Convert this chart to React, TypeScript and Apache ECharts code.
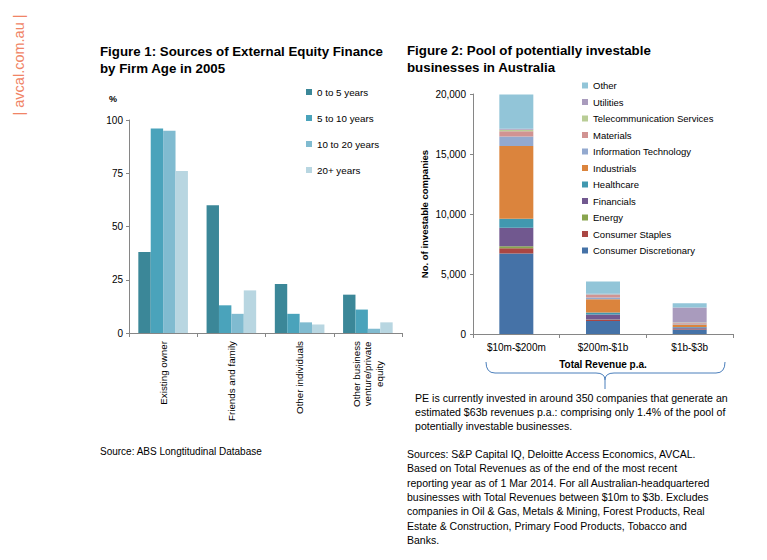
import React, { useEffect, useRef } from "react";
import * as echarts from "echarts";

// ---------- Figure 1 data ----------
const sourceCategories = [
  "Existing owner",
  "Friends and family",
  "Other individuals",
  "Other business\nventure/private\nequity",
];
const ageGroups = ["0 to 5 years", "5 to 10 years", "10 to 20 years", "20+ years"];
const age0to5 = [38, 60, 23, 18];
const age5to10 = [96, 13, 9, 11];
const age10to20 = [95, 9, 5, 2];
const age20plus = [76, 20, 4, 5];
const ageColors = ["#3B8798", "#4AA3BB", "#80BBD0", "#B8D6E1"];

// ---------- Figure 2 data ----------
const revenueBands = ["$10m-$200m", "$200m-$1b", "$1b-$3b"];
const sectors = [
  "Consumer Discretionary",
  "Consumer Staples",
  "Energy",
  "Financials",
  "Healthcare",
  "Industrials",
  "Information Technology",
  "Materials",
  "Telecommunication Services",
  "Utilities",
  "Other",
];
const consumerDiscretionary = [6700, 1080, 380];
const consumerStaples = [450, 110, 40];
const energy = [170, 20, 20];
const financials = [1530, 410, 110];
const healthcare = [750, 170, 40];
const industrials = [6060, 1110, 200];
const informationTechnology = [800, 150, 70];
const materials = [440, 200, 60];
const telecommunication = [120, 50, 30];
const utilities = [80, 60, 1250];
const other = [2860, 1020, 370];
const sectorValues = [
  consumerDiscretionary,
  consumerStaples,
  energy,
  financials,
  healthcare,
  industrials,
  informationTechnology,
  materials,
  telecommunication,
  utilities,
  other,
];
const sectorColors = [
  "#4572A7",
  "#AA4643",
  "#89A54E",
  "#71588F",
  "#4198AF",
  "#DB843D",
  "#93A9CF",
  "#D19392",
  "#B9CD96",
  "#A99BBD",
  "#92C5D8",
];

// ---------- Texts ----------
const title1 = "Figure 1: Sources of External Equity Finance\nby Firm Age in 2005";
const title2 = "Figure 2: Pool of potentially investable\nbusinesses in Australia";
const source1 = "Source: ABS Longtitudinal Database";
const peNote =
  "PE is currently invested in around 350 companies that generate an\nestimated $63b revenues p.a.: comprising only 1.4% of the pool of\npotentially investable businesses.";
const source2 =
  "Sources: S&P Capital IQ, Deloitte Access Economics, AVCAL.\nBased on Total Revenues as of the end of the most recent\nreporting year as of 1 Mar 2014. For all Australian-headquartered\nbusinesses with Total Revenues between $10m to $3b. Excludes\ncompanies in Oil & Gas, Metals & Mining, Forest Products, Real\nEstate & Construction, Primary Food Products, Tobacco and\nBanks.";
const watermark = "| avcal.com.au |";

const FONT = "Liberation Sans, Arial, sans-serif";
const AXIS = "#868686";
const BRACE = "#4A7EBB";

function txt(x: number, y: number, text: string, size: number, opts: any = {}) {
  return {
    type: "text",
    x,
    y,
    rotation: opts.rotation || 0,
    style: {
      text,
      fill: opts.fill || "#000",
      fontSize: size,
      fontFamily: FONT,
      fontWeight: opts.bold ? "bold" : "normal",
      lineHeight: opts.lineHeight || size * 1.2,
      textAlign: opts.align || "left",
      align: opts.align || "left",
      textVerticalAlign: opts.valign || "top",
      verticalAlign: opts.valign || "top",
    },
  };
}

export default function App() {
  const ref = useRef<HTMLDivElement>(null);

  useEffect(() => {
    if (!ref.current) return;
    const chart = echarts.init(ref.current, undefined, { renderer: "svg" });

    const ageSeries = [age0to5, age5to10, age10to20, age20plus].map((d, i) => ({
      name: ageGroups[i],
      type: "bar",
      xAxisIndex: 0,
      yAxisIndex: 0,
      data: d,
      barWidth: 12.4,
      barGap: "0%",
      itemStyle: { color: ageColors[i] },
    }));

    const sectorSeries = sectorValues.map((d, i) => ({
      name: sectors[i],
      type: "bar",
      stack: "total",
      xAxisIndex: 1,
      yAxisIndex: 1,
      data: d,
      barWidth: 34,
      itemStyle: { color: sectorColors[i] },
    }));

    const braceStyle = { stroke: BRACE, lineWidth: 1, fill: "none" };

    const option: any = {
      animation: false,
      textStyle: { fontFamily: FONT },
      grid: [
        { left: 129, top: 120, width: 273, height: 213, containLabel: false },
        { left: 473, top: 94, width: 260, height: 240, containLabel: false },
      ],
      xAxis: [
        {
          type: "category",
          gridIndex: 0,
          data: sourceCategories,
          axisLine: { lineStyle: { color: AXIS } },
          axisTick: { show: true, length: 4, lineStyle: { color: AXIS } },
          axisLabel: {
            rotate: 90,
            interval: 0,
            margin: 8,
            color: "#000",
            fontSize: 9.8,
            formatter: (v: string) =>
              v
                .split("\n")
                .map((l) => `{c|${l}}`)
                .join("\n"),
            rich: { c: { align: "center", fontSize: 9.8, lineHeight: 11.5, color: "#000" } },
          },
        },
        {
          type: "category",
          gridIndex: 1,
          data: revenueBands,
          axisLine: { lineStyle: { color: AXIS } },
          axisTick: { show: true, length: 4, lineStyle: { color: AXIS } },
          axisLabel: { interval: 0, margin: 8, color: "#000", fontSize: 10 },
          name: "Total Revenue p.a.",
          nameLocation: "middle",
          nameGap: 25,
          nameTextStyle: { fontWeight: "bold", fontSize: 10, color: "#000" },
        },
      ],
      yAxis: [
        {
          type: "value",
          gridIndex: 0,
          min: 0,
          max: 100,
          interval: 25,
          axisLine: { show: true, lineStyle: { color: AXIS } },
          axisTick: { show: true, length: 3, lineStyle: { color: AXIS } },
          splitLine: { show: false },
          axisLabel: { color: "#000", fontSize: 10, margin: 6 },
        },
        {
          type: "value",
          gridIndex: 1,
          min: 0,
          max: 20000,
          interval: 5000,
          axisLine: { show: true, lineStyle: { color: AXIS } },
          axisTick: { show: true, length: 3, lineStyle: { color: AXIS } },
          splitLine: { show: false },
          axisLabel: {
            color: "#000",
            fontSize: 10,
            margin: 7,
            formatter: (v: number) => v.toLocaleString("en-US"),
          },
          name: "No. of investable companies",
          nameLocation: "middle",
          nameRotate: 90,
          nameGap: 44,
          nameTextStyle: { fontWeight: "bold", fontSize: 9.5, color: "#000" },
        },
      ],
      legend: [
        {
          orient: "vertical",
          left: 301,
          top: 81.5,
          itemWidth: 6,
          itemHeight: 6,
          itemGap: 15,
          icon: "rect",
          data: ageGroups,
          textStyle: { fontSize: 9.8, color: "#000", lineHeight: 11 },
        },
        {
          orient: "vertical",
          left: 577,
          top: 75,
          itemWidth: 6,
          itemHeight: 6,
          itemGap: 5.5,
          icon: "rect",
          data: [...sectors].reverse(),
          textStyle: { fontSize: 9.5, color: "#000", lineHeight: 11 },
        },
      ],
      series: [...ageSeries, ...sectorSeries],
      graphic: [
        txt(19, 65, watermark, 14.5, {
          rotation: Math.PI / 2,
          align: "center",
          valign: "middle",
          fill: "#F08466",
        }),
        txt(100, 43, title1, 13.3, { bold: true, lineHeight: 17 }),
        txt(407, 42, title2, 13.3, { bold: true, lineHeight: 17 }),
        txt(113, 99, "%", 9, { bold: true, align: "center", valign: "middle" }),
        txt(100, 445, source1, 10),
        txt(415, 391, peNote, 10.6, { lineHeight: 14 }),
        txt(407, 447, source2, 10.5, { lineHeight: 14.3 }),
        // curly brace under the revenue axis
        { type: "bezierCurve", shape: { x1: 486, y1: 362, cpx1: 486, cpy1: 373, x2: 495, y2: 373 }, style: braceStyle },
        { type: "line", shape: { x1: 495, y1: 373, x2: 596, y2: 373 }, style: braceStyle },
        { type: "bezierCurve", shape: { x1: 596, y1: 373, cpx1: 605, cpy1: 373, x2: 605, y2: 380 }, style: braceStyle },
        { type: "bezierCurve", shape: { x1: 605, y1: 380, cpx1: 605, cpy1: 373, x2: 614, y2: 373 }, style: braceStyle },
        { type: "line", shape: { x1: 614, y1: 373, x2: 716, y2: 373 }, style: braceStyle },
        { type: "bezierCurve", shape: { x1: 716, y1: 373, cpx1: 725, cpy1: 373, x2: 725, y2: 362 }, style: braceStyle },
        { type: "line", shape: { x1: 605, y1: 380, x2: 605, y2: 389 }, style: braceStyle },
      ],
    };

    chart.setOption(option);
    return () => chart.dispose();
  }, []);

  return (
    <div
      ref={ref}
      style={{ position: "absolute", left: 0, top: 0, width: 767, height: 560, background: "#fff" }}
    />
  );
}
